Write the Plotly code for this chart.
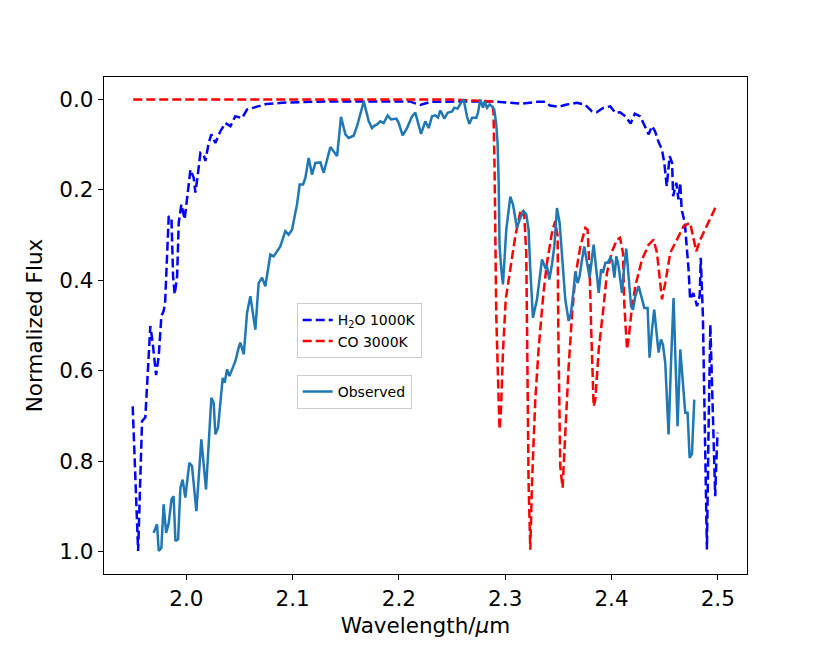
import plotly.graph_objects as go

# H2O 1000K model (dashed blue)
h2o_wl = [1.9495, 1.9546, 1.9583, 1.9614, 1.9661, 1.9683, 1.9715, 1.974, 1.9765, 1.9786,
          1.980, 1.9834, 1.986, 1.9875, 1.989, 1.9913, 1.9928, 1.9953, 1.9984, 2.0006,
          2.0038, 2.0069, 2.0085, 2.011, 2.0132, 2.0163, 2.0179, 2.021, 2.0235, 2.0273,
          2.032, 2.0367, 2.0414, 2.046, 2.0524, 2.057, 2.063, 2.075, 2.09, 2.11,
          2.13, 2.16, 2.19, 2.21, 2.22, 2.23, 2.26, 2.289, 2.305, 2.316,
          2.33, 2.338, 2.342, 2.350, 2.358, 2.3675, 2.375, 2.3817, 2.386, 2.3926,
          2.3989, 2.4036, 2.408, 2.413, 2.418, 2.422, 2.427, 2.4318, 2.435, 2.438,
          2.441, 2.444, 2.4475, 2.4497, 2.452, 2.4547, 2.457, 2.458, 2.461, 2.463,
          2.4647, 2.466, 2.469, 2.4725, 2.474, 2.477, 2.4805, 2.483, 2.484, 2.486,
          2.488, 2.4898, 2.4913, 2.493, 2.495, 2.4976, 2.4985, 2.4998]
h2o_flux = [0.679, 0.999, 0.712, 0.703, 0.501, 0.538, 0.610, 0.568, 0.479, 0.468,
            0.450, 0.258, 0.265, 0.391, 0.431, 0.391, 0.273, 0.232, 0.265, 0.221,
            0.155, 0.173, 0.206, 0.162, 0.118, 0.122, 0.136, 0.096, 0.077, 0.096,
            0.070, 0.052, 0.059, 0.037, 0.041, 0.022, 0.018, 0.010, 0.007, 0.005,
            0.004, 0.004, 0.004, 0.004, 0.012, 0.005, 0.004, 0.004, 0.007, 0.009,
            0.005, 0.005, 0.013, 0.016, 0.011, 0.007, 0.011, 0.026, 0.028, 0.018,
            0.015, 0.029, 0.028, 0.037, 0.053, 0.031, 0.037, 0.059, 0.077, 0.059,
            0.070, 0.092, 0.111, 0.140, 0.192, 0.125, 0.140, 0.214, 0.184, 0.221,
            0.184, 0.243, 0.273, 0.376, 0.442, 0.428, 0.457, 0.435, 0.350, 0.479,
            0.811, 0.996, 0.737, 0.498, 0.664, 0.878, 0.811, 0.737]

# CO 3000K model (dashed red)
co_wl = [1.95, 2.05, 2.15, 2.25, 2.2876, 2.289, 2.290, 2.2916, 2.2938, 2.2947,
         2.296, 2.298, 2.3005, 2.305, 2.3095, 2.314, 2.3158, 2.318, 2.3198, 2.3205,
         2.322, 2.3236, 2.3252, 2.3283, 2.3314, 2.3346, 2.336, 2.3393, 2.344, 2.347,
         2.3493, 2.350, 2.3518, 2.354, 2.3565, 2.3597, 2.3628, 2.366, 2.3707, 2.3754,
         2.3775, 2.3794, 2.381, 2.3832, 2.3848, 2.388, 2.3926, 2.3958, 2.4005, 2.4052,
         2.408, 2.4108, 2.412, 2.4146, 2.416, 2.419, 2.4224, 2.4287, 2.435, 2.4396,
         2.4428, 2.446, 2.4475, 2.4506, 2.4553, 2.4616, 2.4678, 2.474, 2.477, 2.4798,
         2.4835, 2.4898, 2.4992]
co_flux = [0.0, 0.0, 0.0, 0.0, 0.004, 0.029, 0.155, 0.479, 0.664, 0.730,
           0.686, 0.553, 0.442, 0.376, 0.302, 0.251, 0.243, 0.258, 0.339, 0.500,
           0.848, 0.996, 0.848, 0.664, 0.553, 0.465, 0.428, 0.361, 0.295, 0.269,
           0.302, 0.520, 0.811, 0.859, 0.737, 0.590, 0.479, 0.391, 0.325, 0.284,
           0.288, 0.376, 0.516, 0.679, 0.664, 0.553, 0.457, 0.383, 0.336, 0.310,
           0.306, 0.339, 0.450, 0.553, 0.531, 0.465, 0.413, 0.354, 0.321, 0.310,
           0.339, 0.413, 0.442, 0.406, 0.339, 0.310, 0.280, 0.273, 0.302, 0.336,
           0.310, 0.280, 0.232]

# observed spectrum (solid)
obs_wl = [1.9692, 1.9724, 1.974, 1.9765, 1.9786, 1.981, 1.9834, 1.986, 1.988, 1.9897,
          1.9922, 1.9944, 1.9965, 1.999, 2.0028, 2.0053, 2.0094, 2.0141, 2.0185, 2.0235,
          2.0257, 2.0273, 2.0298, 2.0342, 2.036, 2.0383, 2.0405, 2.043, 2.0461, 2.0492,
          2.0508, 2.054, 2.0571, 2.0602, 2.0649, 2.068, 2.0712, 2.0743, 2.079, 2.0821,
          2.0884, 2.0931, 2.0962, 2.0994, 2.1041, 2.1066, 2.1098, 2.112, 2.1151, 2.1182,
          2.1214, 2.1261, 2.1292, 2.1355, 2.1386, 2.1418, 2.1455, 2.1496, 2.1527, 2.1574,
          2.1606, 2.1669, 2.1716, 2.1747, 2.1769, 2.1794, 2.1825, 2.1856, 2.1894, 2.1926,
          2.1976, 2.1998, 2.2035, 2.2076, 2.2123, 2.2154, 2.2208, 2.2248, 2.228, 2.2311,
          2.2342, 2.2367, 2.239, 2.2427, 2.2458, 2.25, 2.2521, 2.2552, 2.2584, 2.2609,
          2.264, 2.2662, 2.2688, 2.2728, 2.2744, 2.2766, 2.2791, 2.2806, 2.2829, 2.2853,
          2.2876, 2.2897, 2.2916, 2.2928, 2.2938, 2.2947, 2.2965, 2.2979, 2.301, 2.3048,
          2.3073, 2.311, 2.3142, 2.3173, 2.3198, 2.322, 2.3236, 2.3261, 2.3299, 2.3323,
          2.3346, 2.3377, 2.3393, 2.3415, 2.344, 2.3462, 2.3487, 2.3512, 2.3534, 2.3565,
          2.3597, 2.3619, 2.3644, 2.366, 2.3681, 2.37, 2.3723, 2.3744, 2.377, 2.3794,
          2.3832, 2.3857, 2.388, 2.3902, 2.392, 2.3942, 2.3964, 2.399, 2.4008, 2.4027,
          2.4046, 2.4067, 2.4099, 2.412, 2.4139, 2.4161, 2.4184, 2.4202, 2.4224, 2.4255,
          2.4277, 2.4309, 2.434, 2.4358, 2.4381, 2.4402, 2.4421, 2.4443, 2.4465, 2.4484,
          2.4506, 2.4537, 2.456, 2.4584, 2.4603, 2.4622, 2.4647, 2.4672, 2.4694, 2.4716,
          2.4735, 2.4757, 2.4779]
obs_flux = [0.959, 0.940, 0.999, 0.992, 0.896, 0.959, 0.937, 0.885, 0.878, 0.977,
            0.973, 0.859, 0.841, 0.881, 0.804, 0.811, 0.911, 0.752, 0.863, 0.660,
            0.671, 0.741, 0.726, 0.616, 0.627, 0.597, 0.612, 0.597, 0.579, 0.549,
            0.538, 0.564, 0.472, 0.435, 0.509, 0.406, 0.394, 0.413, 0.343, 0.347,
            0.325, 0.291, 0.299, 0.288, 0.232, 0.188, 0.188, 0.173, 0.129, 0.166,
            0.140, 0.139, 0.162, 0.105, 0.114, 0.125, 0.038, 0.077, 0.085, 0.080,
            0.059, 0.004, 0.048, 0.063, 0.058, 0.055, 0.048, 0.052, 0.035, 0.044,
            0.042, 0.052, 0.079, 0.063, 0.037, 0.029, 0.076, 0.048, 0.063, 0.037,
            0.035, 0.040, 0.024, 0.042, 0.029, 0.026, 0.018, 0.020, 0.007, 0.000,
            0.037, 0.054, 0.040, 0.040, 0.029, 0.000, 0.018, 0.004, 0.018, 0.011,
            0.015, 0.022, 0.055, 0.096, 0.177, 0.325, 0.380, 0.409, 0.288, 0.215,
            0.232, 0.284, 0.262, 0.247, 0.254, 0.288, 0.376, 0.483, 0.442, 0.398,
            0.354, 0.372, 0.369, 0.398, 0.365, 0.325, 0.240, 0.273, 0.339, 0.442,
            0.490, 0.472, 0.420, 0.380, 0.406, 0.391, 0.354, 0.325, 0.361, 0.394,
            0.321, 0.383, 0.428, 0.376, 0.383, 0.361, 0.361, 0.350, 0.357, 0.394,
            0.347, 0.369, 0.428, 0.369, 0.330, 0.391, 0.457, 0.465, 0.435, 0.413,
            0.431, 0.461, 0.461, 0.571, 0.509, 0.465, 0.509, 0.560, 0.531, 0.542,
            0.583, 0.741, 0.583, 0.439, 0.583, 0.723, 0.553, 0.619, 0.693, 0.693,
            0.793, 0.784, 0.664]

x_ticks = [2.0, 2.1, 2.2, 2.3, 2.4, 2.5]
y_ticks = [0.0, 0.2, 0.4, 0.6, 0.8, 1.0]

FONT = 'DejaVu Sans'

fig = go.Figure()
fig.add_trace(go.Scatter(x=h2o_wl, y=h2o_flux, mode='lines', name='H<sub>2</sub>O 1000K',
                         line=dict(color='#0000ff', width=2.5, dash='9px,4px'),
                         legend='legend'))
fig.add_trace(go.Scatter(x=co_wl, y=co_flux, mode='lines', name='CO 3000K',
                         line=dict(color='#ff0000', width=2.5, dash='9px,4px'),
                         legend='legend'))
fig.add_trace(go.Scatter(x=obs_wl, y=obs_flux, mode='lines', name='Observed',
                         line=dict(color='#1f77b4', width=2.5),
                         legend='legend2'))

axis_common = dict(showline=True, mirror=True, linecolor='black', linewidth=1.3,
                   ticks='outside', ticklen=5, tickwidth=1.3, tickcolor='black',
                   showgrid=False, zeroline=False,
                   tickfont=dict(family=FONT, size=21.5, color='black'))

fig.update_xaxes(range=[1.9225, 2.5275], tickvals=x_ticks, tickformat='.1f',
                 title=dict(text='Wavelength/<i>μ</i>m', font=dict(family=FONT, size=21.5, color='black'),
                            standoff=7),
                 **axis_common)
fig.update_yaxes(range=[1.05, -0.05], tickvals=y_ticks, tickformat='.1f',
                 title=dict(text='Normalized Flux', font=dict(family=FONT, size=21.5, color='black'),
                            standoff=10),
                 **axis_common)

legend_style = dict(xanchor='left', yanchor='top', bgcolor='white',
                    bordercolor='#cccccc', borderwidth=1,
                    font=dict(family=FONT, size=14, color='black'),
                    tracegroupgap=0)

# the page body adds an 8px offset, so margins are shifted up/left to compensate
fig.update_layout(
    width=830, height=646,
    margin=dict(l=96, r=91, t=69, b=80),
    paper_bgcolor='white', plot_bgcolor='white',
    font=dict(family=FONT),
    legend=dict(x=0.2997, y=0.5447, **legend_style),
    legend2=dict(x=0.2997, y=0.4004, **legend_style),
)

fig.write_html("out.html")
